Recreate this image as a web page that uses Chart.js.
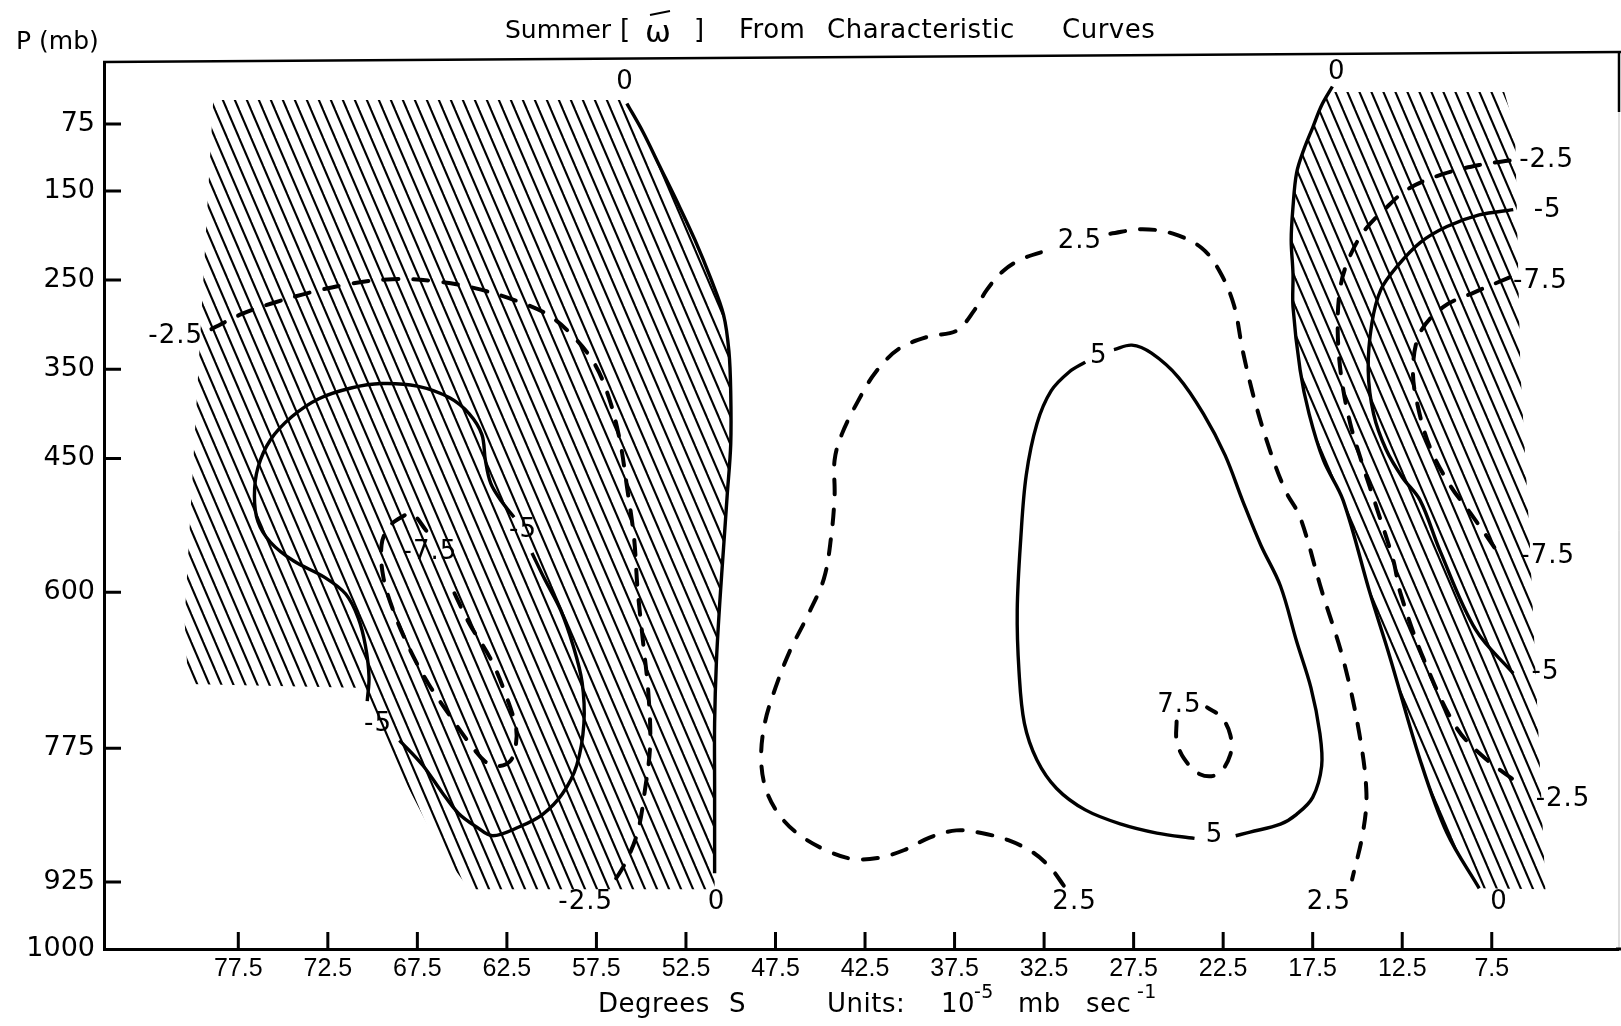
<!DOCTYPE html>
<html>
<head>
<meta charset="utf-8">
<title>Summer omega from characteristic curves</title>
<script src="https://cdn.jsdelivr.net/npm/chart.js@4.4.1/dist/chart.umd.min.js"></script>
<style>
  html, body { margin: 0; padding: 0; background: #fff; }
  canvas { display: block; }
</style>
</head>
<body>
<canvas id="omegaChart" width="1621" height="1026"></canvas>
<script>
// axis ticks
const degreeTicks = [77.5, 72.5, 67.5, 62.5, 57.5, 52.5, 47.5, 42.5, 37.5, 32.5, 27.5, 22.5, 17.5, 12.5, 7.5];
const pressureTicks = [75, 150, 250, 350, 450, 600, 775, 925, 1000];

// contours, [degrees S, mb]
const zeroLeft = [[55.8,52],[54.9,84],[54.0,121],[53.0,162],[52.0,205],[51.1,249],[50.4,289],[50.1,330],[50.0,376],[50.0,434],[50.2,492],[50.4,550],[50.6,608],[50.8,678],[50.9,747],[50.9,817],[50.9,875],[50.9,915]];
const minus25Left = [[79.0,305],[77.3,288],[75.6,276],[73.5,264],[71.2,254],[68.9,249],[66.6,251],[64.3,259],[62.0,273],[60.2,289],[58.8,313],[57.6,344],[56.8,382],[56.2,429],[55.8,481],[55.4,539],[55.2,597],[54.9,655],[54.6,713],[54.5,771],[54.8,823],[55.2,869],[55.9,904],[56.7,930]];
const minus5LeftUpper = [[62.1,516],[62.8,498],[63.4,478],[63.7,452],[63.9,423],[64.6,400],[65.7,382],[67.5,369],[69.5,366],[71.2,371],[73.0,383],[74.5,403],[75.7,429],[76.4,460],[76.6,492],[76.4,521],[75.7,544],[74.4,565],[72.7,583],[71.5,602],[70.8,629],[70.4,660],[70.2,695],[70.3,722]];
const minus5LeftLower = [[68.5,766],[67.2,794],[66.1,825],[65.2,848],[64.2,863],[63.3,873],[61.8,863],[60.5,849],[59.4,826],[58.6,794],[58.2,747],[58.3,701],[58.8,660],[59.5,620],[60.4,585],[61.1,556]];
const minus75Left = [[67.0,531],[67.8,512],[68.4,516],[69.1,527],[69.5,547],[69.4,583],[68.8,623],[67.9,665],[66.9,702],[65.7,738],[64.6,769],[63.7,790],[63.0,795],[62.3,789],[62.0,771],[62.0,751],[62.6,713],[63.4,675],[64.6,635],[65.6,594]];
const plus25West = [[31.4,929],[32.1,910],[33.1,892],[34.5,878],[36.0,870],[37.4,867],[38.9,875],[40.3,889],[41.8,898],[43.2,899],[44.6,890],[46.1,873],[47.2,852],[48.0,823],[48.3,788],[48.1,747],[47.5,707],[46.7,666],[45.7,626],[44.8,585],[44.4,539],[44.2,492],[44.2,452],[43.8,423],[42.9,386],[41.9,353],[40.6,327],[38.9,313],[37.4,307],[36.4,284],[35.7,261],[34.8,240],[33.7,226],[32.2,216]];
const plus25East = [[28.8,198],[27.0,193],[25.3,198],[23.7,214],[22.7,240],[21.9,278],[21.4,330],[20.7,388],[19.8,446],[19.0,487],[18.2,516],[17.0,598],[15.8,675],[14.9,758],[14.5,825],[14.7,870],[15.3,922]];
const plus5East = [[28.6,328],[27.6,323],[26.5,332],[25.0,359],[23.6,400],[22.4,446],[21.4,498],[20.4,547],[19.3,593],[18.4,655],[17.6,707],[17.1,758],[17.0,795],[17.5,830],[18.4,849],[19.3,860],[21.0,869],[21.8,873]];
const plus5West = [[24.1,876],[26.2,870],[28.2,860],[30.2,844],[31.8,820],[32.9,788],[33.6,747],[33.9,689],[34.0,620],[33.8,539],[33.5,469],[32.9,411],[32.1,374],[31.1,353],[30.2,342]];
const plus75 = [[25.1,745],[25.1,766],[24.7,786],[23.8,804],[22.8,804],[22.1,782],[22.1,760],[22.6,740],[23.4,729]];
const zeroRight = [[16.4,33],[17.0,54],[17.5,79],[18.0,104],[18.4,130],[18.6,168],[18.7,205],[18.6,243],[18.6,280],[18.2,351],[17.7,400],[16.9,452],[15.8,497],[14.3,601],[13.2,672],[11.5,788],[10.0,870],[8.2,932]];
const minus25Right = [[6.5,116],[8.2,121],[10.2,131],[12.1,147],[13.4,169],[14.7,197],[15.6,232],[16.0,264],[16.1,309],[15.9,359],[15.4,411],[14.7,458],[13.9,507],[13.0,564],[12.6,601],[11.3,675],[9.5,751],[8.0,784],[6.3,810]];
const minus5Right = [[6.3,171],[8.2,177],[10.0,190],[11.5,208],[12.8,235],[13.7,261],[14.2,299],[14.4,351],[14.1,400],[13.4,440],[12.5,471],[11.5,497],[10.4,553],[8.4,642],[6.3,691]];
const minus75Right = [[6.5,247],[8.5,264],[10.2,280],[11.5,309],[11.9,351],[11.6,394],[10.9,440],[9.8,481],[8.7,511],[7.0,560]];

// outer corners of the hatched (negative) areas
const hatchLeftTop = [[78.9,48],[55.8,48]];
const hatchLeftBottom = [[50.9,933],[64.6,933],[66.2,889],[70.9,707],[80.3,703],[80.5,631]];
const hatchRightOuter = [[4.5,933],[5.4,534],[5.9,351],[6.2,81],[6.8,39],[16.6,39]];

// contour labels
const labelText = ['0', '0', '-2.5', '-2.5', '-5', '-5', '-7.5', '2.5', '2.5', '2.5', '5', '5', '7.5', '0', '0', '-2.5', '-5', '-7.5', '-7.5', '-5', '-2.5'];
const labelDeg = [55.9, 50.8, 81.0, 58.1, 61.6, 69.7, 66.8, 30.5, 30.8, 16.6, 29.45, 22.98, 24.94, 16.16, 7.09, 4.44, 4.38, 4.78, 4.38, 4.5, 3.52];
const labelMb = [28.6, 948, 312.6, 948, 530.5, 748.4, 554.9, 206, 948, 948, 335.8, 872.5, 726.4, 17, 948, 115.6, 171.2, 251.2, 559.5, 689.3, 832];

const canvas = document.getElementById('omegaChart');
const ctx = canvas.getContext('2d');

const toPoints = arr => arr.map(([x, y]) => ({ x: x, y: y }));

function makeHatch() {
    const tile = document.createElement('canvas');
    tile.width = 12;
    tile.height = 28;
    const t = tile.getContext('2d');
    t.strokeStyle = '#000';
    t.lineWidth = 2.1;
    [-12, 0, 12].forEach(function (x0) {
        t.beginPath();
        t.moveTo(x0 - 6, -14);
        t.lineTo(x0 + 18, 42);
        t.stroke();
    });
    return ctx.createPattern(tile, 'repeat');
}
const hatch = makeHatch();

function contour(points, dashed) {
    return {
        data: toPoints(points),
        borderColor: '#000',
        borderWidth: dashed ? 4 : 3.4,
        borderDash: dashed ? [15, 15] : [],
        borderCapStyle: dashed ? 'round' : 'butt',
        borderJoinStyle: 'round',
        tension: 0.35,
        pointRadius: 0,
        fill: false,
        order: 0
    };
}

function hatchArea(points) {
    return {
        data: toPoints(points),
        borderColor: 'rgba(0,0,0,0)',
        borderWidth: 0,
        backgroundColor: hatch,
        fill: 'shape',
        tension: 0,
        pointRadius: 0,
        order: 5
    };
}

const paperPlugin = {
    id: 'paper',
    beforeDraw(chart) {
        const c = chart.ctx;
        c.save();
        c.fillStyle = '#fff';
        c.fillRect(0, 0, chart.width, chart.height);
        c.restore();
    },
    afterDatasetsDraw(chart) {
        const c = chart.ctx;
        const x = chart.scales.x, y = chart.scales.y;
        c.save();
        c.font = '26px "DejaVu Sans"';
        c.letterSpacing = '1px';
        c.fillStyle = '#000';
        c.textAlign = 'center';
        c.textBaseline = 'middle';
        labelText.forEach(function (t, i) {
            c.fillText(t, x.getPixelForValue(labelDeg[i]), y.getPixelForValue(labelMb[i]));
        });
        c.restore();
    },
    afterDraw(chart) {
        const c = chart.ctx;
        const a = chart.chartArea;
        const x = chart.scales.x, y = chart.scales.y;
        c.save();
        c.strokeStyle = '#000';

        // tick marks point into the plot
        c.lineWidth = 3;
        c.beginPath();
        degreeTicks.forEach(function (v) {
            const px = x.getPixelForValue(v);
            c.moveTo(px, a.bottom);
            c.lineTo(px, a.bottom - 17);
        });
        pressureTicks.forEach(function (v) {
            if (v >= 1000) return;
            const py = y.getPixelForValue(v);
            c.moveTo(a.left, py);
            c.lineTo(a.left + 17, py);
        });
        c.stroke();

        // frame: top edge sags a little like the scan
        c.lineWidth = 2.5;
        c.beginPath();
        c.moveTo(a.left - 1, a.top);
        c.lineTo(chart.width, a.top - 10);
        c.stroke();
        c.beginPath();
        c.moveTo(a.right + 1, a.top - 9);
        c.lineTo(a.right + 1, a.top + 50);
        c.stroke();
        c.strokeStyle = '#bbb';
        c.lineWidth = 1;
        c.beginPath();
        c.moveTo(a.right + 1, a.top + 50);
        c.lineTo(a.right + 1, a.bottom);
        c.stroke();
        c.strokeStyle = '#000';
        c.lineWidth = 3;
        c.beginPath();
        c.moveTo(a.right - 2, a.bottom);
        c.lineTo(chart.width, a.bottom);
        c.stroke();

        // texts
        c.fillStyle = '#000';
        c.textBaseline = 'middle';
        c.textAlign = 'left';
        c.letterSpacing = '0px';
        c.font = '25px "DejaVu Sans"';
        c.fillText('Summer', 505, 31);
        c.letterSpacing = '0.5px';
        c.font = '26px "DejaVu Sans"';
        [['[', 620], ['From', 739], ['Characteristic', 827], ['Curves', 1062], [']', 694]].forEach(function (w) {
            c.fillText(w[0], w[1], 31);
        });
        c.font = '31px "DejaVu Sans"';
        c.fillText('\u03c9', 645, 34);
        c.lineWidth = 2.2;
        c.beginPath();
        c.moveTo(650, 15);
        c.lineTo(670, 11);
        c.stroke();

        c.letterSpacing = '0px';
        c.font = '25px "DejaVu Sans"';
        c.fillText('P (mb)', 16, 42);

        c.letterSpacing = '0.5px';
        c.font = '26px "DejaVu Sans"';
        c.fillText('Degrees', 598, 1005);
        c.fillText('S', 729, 1005);
        c.fillText('Units:', 827, 1005);
        c.fillText('10', 941, 1005);
        c.fillText('mb', 1018, 1005);
        c.fillText('sec', 1086, 1005);
        c.font = '19px "DejaVu Sans"';
        c.fillText('-5', 974, 993);
        c.fillText('-1', 1137, 993);
        c.restore();
    }
};

new Chart(ctx, {
    type: 'line',
    data: {
        datasets: [
            contour(zeroLeft, false),
            contour(minus25Left, true),
            contour(minus5LeftUpper, false),
            contour(minus5LeftLower, false),
            contour(minus75Left, true),
            contour(plus25West, true),
            contour(plus25East, true),
            contour(plus5East, false),
            contour(plus5West, false),
            contour(plus75, true),
            contour(zeroRight, false),
            contour(minus25Right, true),
            contour(minus5Right, false),
            contour(minus75Right, true),
            hatchArea(hatchLeftTop.concat(zeroLeft, hatchLeftBottom)),
            hatchArea(zeroRight.concat(hatchRightOuter))
        ]
    },
    options: {
        responsive: false,
        animation: false,
        layout: {
            padding: { left: 0, right: 3, top: 62, bottom: 0 }
        },
        plugins: {
            legend: { display: false },
            tooltip: { enabled: false },
            title: { display: false }
        },
        scales: {
            x: {
                type: 'linear',
                reverse: true,
                min: 0.45,
                max: 85,
                afterBuildTicks: function (scale) {
                    scale.ticks = degreeTicks.map(v => ({ value: v }));
                },
                afterFit: function (scale) {
                    scale.height = 77;
                },
                grid: { display: false, drawTicks: false },
                border: { display: true, color: '#000', width: 3 },
                ticks: {
                    autoSkip: false,
                    maxRotation: 0,
                    padding: 5,
                    color: '#000',
                    font: { family: 'Liberation Sans', size: 25 },
                    callback: v => v.toFixed(1)
                }
            },
            y: {
                type: 'linear',
                reverse: true,
                min: 5.5,
                max: 1000,
                afterBuildTicks: function (scale) {
                    scale.ticks = pressureTicks.map(v => ({ value: v }));
                },
                afterFit: function (scale) {
                    scale.width = 104;
                },
                grid: { display: false, drawTicks: false },
                border: { display: true, color: '#000', width: 3 },
                ticks: {
                    autoSkip: false,
                    padding: 9,
                    color: '#000',
                    font: { family: 'DejaVu Sans', size: 27 },
                    callback: v => String(v)
                }
            }
        }
    },
    plugins: [paperPlugin]
});
</script>
</body>
</html>
